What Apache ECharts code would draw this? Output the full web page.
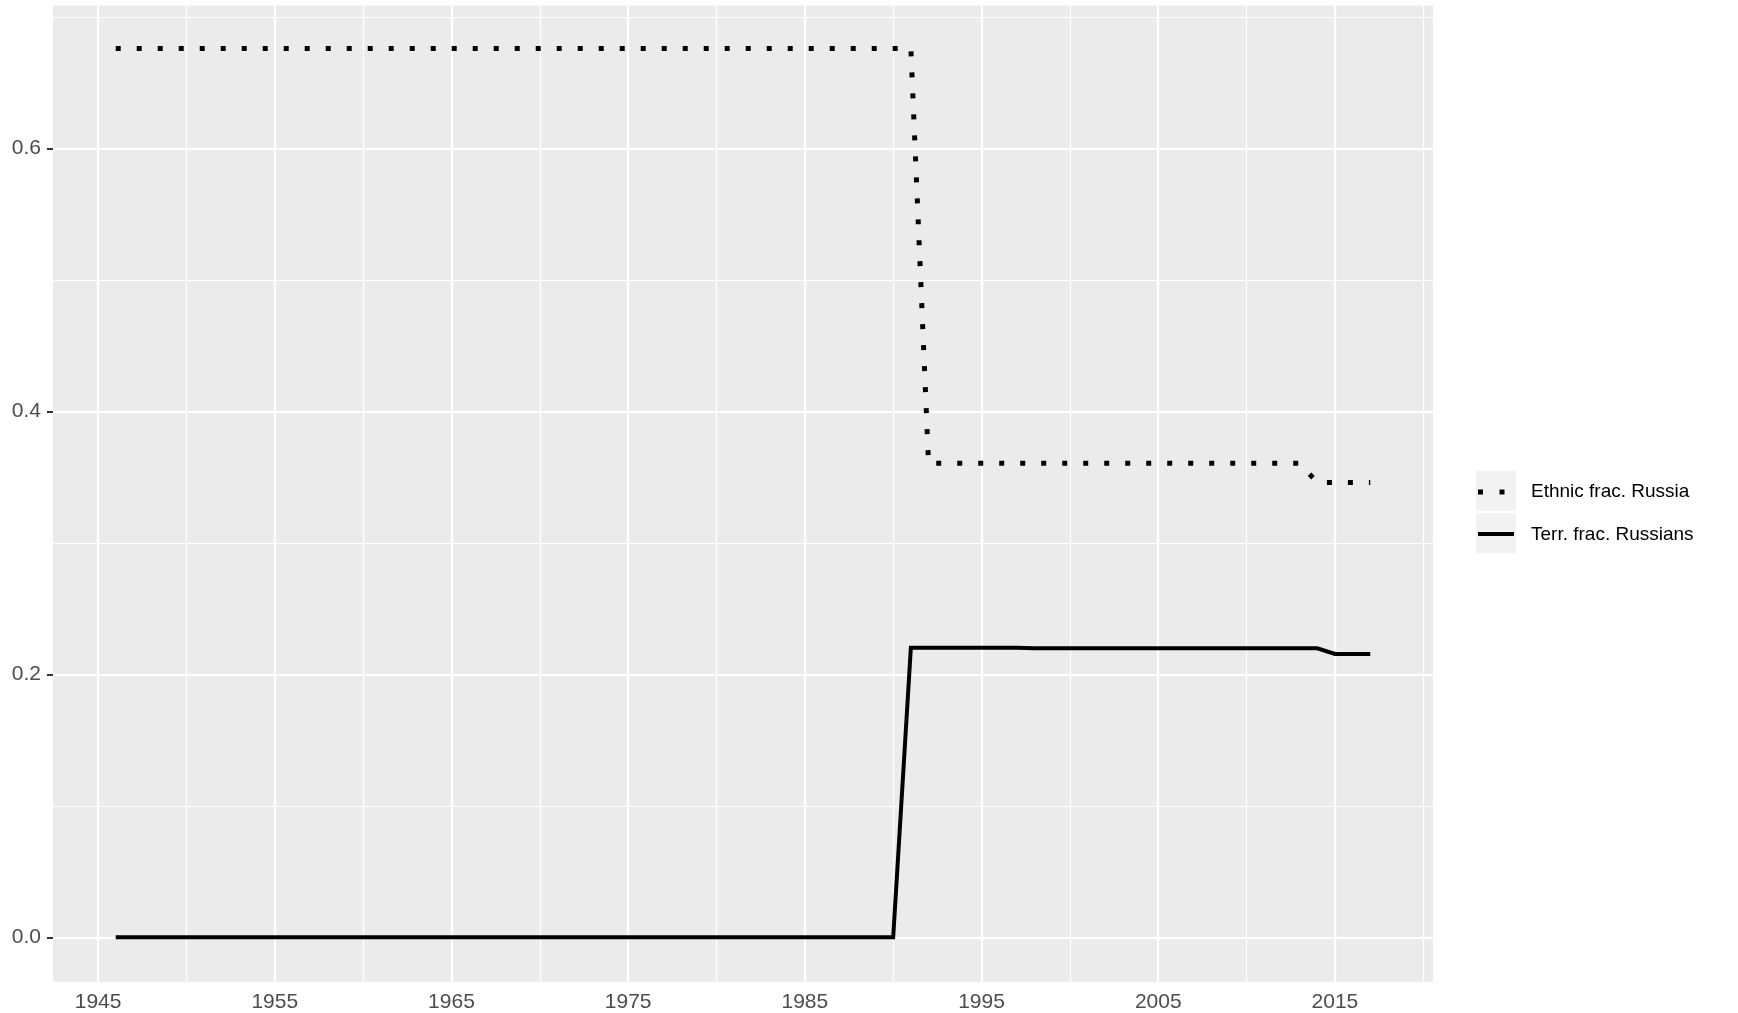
<!DOCTYPE html>
<html>
<head>
    <meta http-equiv="Content-Type" content="text/html; charset=UTF-8">
    <title>ECharts</title>
    <script src="https://cdn.jsdelivr.net/npm/echarts@6/dist/echarts.min.js"></script>
    <style>
        html, body { margin: 0; padding: 0; background: #fff; }
    </style>
</head>
<body>
<div id="chart" style="width: 1738px; height: 1013px;"></div>

<script type="text/javascript">
    // data
    var years = [1946, 1947, 1948, 1949, 1950, 1951, 1952, 1953, 1954, 1955,
        1956, 1957, 1958, 1959, 1960, 1961, 1962, 1963, 1964, 1965,
        1966, 1967, 1968, 1969, 1970, 1971, 1972, 1973, 1974, 1975,
        1976, 1977, 1978, 1979, 1980, 1981, 1982, 1983, 1984, 1985,
        1986, 1987, 1988, 1989, 1990, 1991, 1992, 1993, 1994, 1995,
        1996, 1997, 1998, 1999, 2000, 2001, 2002, 2003, 2004, 2005,
        2006, 2007, 2008, 2009, 2010, 2011, 2012, 2013, 2014, 2015,
        2016, 2017];

    var ethnicFrac = [0.676, 0.676, 0.676, 0.676, 0.676, 0.676, 0.676, 0.676, 0.676, 0.676,
        0.676, 0.676, 0.676, 0.676, 0.676, 0.676, 0.676, 0.676, 0.676, 0.676,
        0.676, 0.676, 0.676, 0.676, 0.676, 0.676, 0.676, 0.676, 0.676, 0.676,
        0.676, 0.676, 0.676, 0.676, 0.676, 0.676, 0.676, 0.676, 0.676, 0.676,
        0.676, 0.676, 0.676, 0.676, 0.676, 0.676, 0.3605, 0.3605, 0.3605, 0.3605,
        0.3605, 0.3605, 0.3605, 0.3605, 0.3605, 0.3605, 0.3605, 0.3605, 0.3605, 0.3605,
        0.3605, 0.3605, 0.3605, 0.3605, 0.3605, 0.3605, 0.3605, 0.3605, 0.346, 0.346,
        0.346, 0.346];

    var terrFrac = [0, 0, 0, 0, 0, 0, 0, 0, 0, 0,
        0, 0, 0, 0, 0, 0, 0, 0, 0, 0,
        0, 0, 0, 0, 0, 0, 0, 0, 0, 0,
        0, 0, 0, 0, 0, 0, 0, 0, 0, 0,
        0, 0, 0, 0, 0, 0.2203, 0.2203, 0.2203, 0.2203, 0.2203,
        0.2203, 0.2203, 0.2198, 0.2198, 0.2198, 0.2198, 0.2198, 0.2198, 0.2198, 0.2198,
        0.2198, 0.2198, 0.2198, 0.2198, 0.2198, 0.2198, 0.2198, 0.2198, 0.2198, 0.2155,
        0.2155, 0.2155];

    var seriesNames = ['Ethnic frac. Russia', 'Terr. frac. Russians'];

    var xTicks = [1945, 1955, 1965, 1975, 1985, 1995, 2005, 2015];
    var xMinor = [1950, 1960, 1970, 1980, 1990, 2000, 2010, 2020];
    var yTicks = [0, 0.2, 0.4, 0.6];
    var yMinor = [0.1, 0.3, 0.5, 0.7];

    var FONT = '"Liberation Sans", Arial, Helvetica, sans-serif';

    function pairs(xs, ys) {
        var res = [];
        for (var i = 0; i < xs.length; i++) {
            res.push([xs[i], ys[i]]);
        }
        return res;
    }

    // ggplot-like panel grid, drawn as marker lines under the data
    var gridLines = [];
    xMinor.forEach(function (v) { gridLines.push({xAxis: v, lineStyle: {width: 1.2}}); });
    yMinor.forEach(function (v) { gridLines.push({yAxis: v, lineStyle: {width: 1.2}}); });
    xTicks.forEach(function (v) { gridLines.push({xAxis: v, lineStyle: {width: 2.2}}); });
    yTicks.forEach(function (v) { gridLines.push({yAxis: v, lineStyle: {width: 2.2}}); });

    var chart = echarts.init(document.getElementById('chart'));

    chart.setOption({
        animation: false,
        grid: {
            left: 53,
            top: 5.5,
            right: 305,
            bottom: 31.3,
            show: true,
            backgroundColor: '#ebebeb',
            borderWidth: 0,
            containLabel: false,
            outerBoundsMode: 'none'
        },
        xAxis: {
            type: 'value',
            min: 1942.45,
            max: 2020.55,
            axisLine: {show: false},
            splitLine: {show: false},
            axisTick: {
                show: true,
                length: 6,
                customValues: xTicks,
                lineStyle: {color: '#333333', width: 2}
            },
            axisLabel: {
                customValues: xTicks,
                margin: 10,
                color: '#4d4d4d',
                fontSize: 21,
                fontFamily: FONT,
                formatter: function (v) { return String(v); }
            }
        },
        yAxis: {
            type: 'value',
            min: -0.03375,
            max: 0.70875,
            axisLine: {show: false},
            splitLine: {show: false},
            axisTick: {
                show: true,
                length: 6,
                customValues: yTicks,
                lineStyle: {color: '#333333', width: 2}
            },
            axisLabel: {
                customValues: yTicks,
                margin: 12,
                color: '#4d4d4d',
                fontSize: 21,
                fontFamily: FONT,
                formatter: function (v) { return v.toFixed(1); }
            }
        },
        graphic: [
            // legend keys
            {type: 'rect', left: 1476, top: 471, shape: {width: 40, height: 40}, style: {fill: '#f2f2f2'}},
            {type: 'rect', left: 1476, top: 513, shape: {width: 40, height: 40}, style: {fill: '#f2f2f2'}},
            {
                type: 'line',
                shape: {x1: 1478, y1: 492, x2: 1514, y2: 492},
                style: {stroke: '#000', lineWidth: 5, lineDash: [5, 16.5], lineCap: 'butt'}
            },
            {
                type: 'line',
                shape: {x1: 1478, y1: 534, x2: 1514, y2: 534},
                style: {stroke: '#000', lineWidth: 4, lineCap: 'butt'}
            },
            {
                type: 'text', left: 1531, top: 482,
                style: {text: seriesNames[0], fill: '#000', fontSize: 19, fontFamily: FONT}
            },
            {
                type: 'text', left: 1531, top: 525,
                style: {text: seriesNames[1], fill: '#000', fontSize: 19, fontFamily: FONT}
            }
        ],
        series: [
            {
                name: 'grid',
                type: 'line',
                data: [],
                silent: true,
                markLine: {
                    silent: true,
                    z: 1,
                    symbol: ['none', 'none'],
                    label: {show: false},
                    lineStyle: {color: '#ffffff', type: 'solid'},
                    data: gridLines
                }
            },
            {
                name: seriesNames[0],
                type: 'line',
                z: 3,
                symbol: 'none',
                data: pairs(years, ethnicFrac),
                lineStyle: {color: '#000', width: 5, type: [5, 16], cap: 'butt', join: 'miter'}
            },
            {
                name: seriesNames[1],
                type: 'line',
                z: 3,
                symbol: 'none',
                data: pairs(years, terrFrac),
                lineStyle: {color: '#000', width: 4, type: 'solid', cap: 'butt', join: 'miter'}
            }
        ]
    });
</script>

</body>
</html>
